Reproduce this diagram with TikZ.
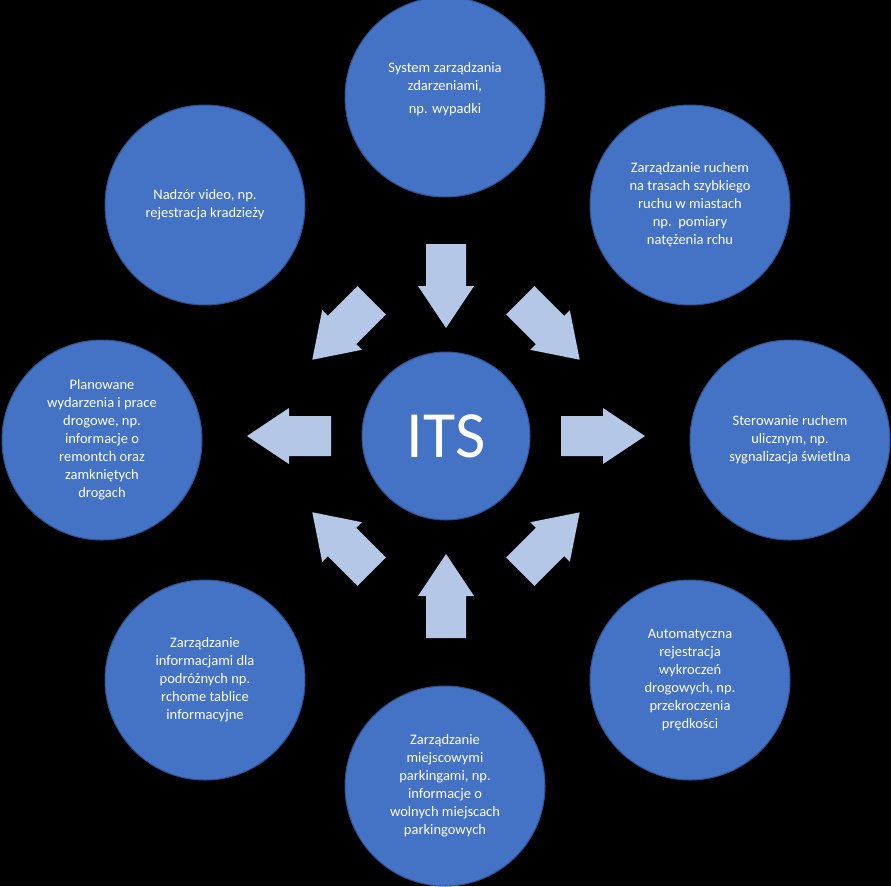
\documentclass[tikz,border=0pt]{standalone}
\usepackage{fontspec}
\setmainfont{Carlito}
\definecolor{cfill}{HTML}{4472C4}
\definecolor{cedge}{HTML}{2F528F}
\definecolor{afill}{HTML}{B4C7E7}
\tikzset{
 outer/.style={circle,fill=cfill,draw=cedge,line width=1pt,minimum size=200pt,inner sep=0pt,text=white,align=center,font=\fontsize{14.5}{18}\selectfont},
 blockarrow/.style={fill=afill,draw=none}
}
\begin{document}
\begin{tikzpicture}[x=1pt,y=-1pt]
\fill[black] (0,0) rectangle (891,886);
\useasboundingbox (0,0) rectangle (891,886);
\node[outer,minimum size=168pt,font=\fontsize{66}{66}\selectfont] (its) at (446,436) {ITS};
\node[outer] (n) at (445,97) {System zarządzania\\zdarzeniami,\\[5pt]np. wypadki\\[0pt]};
\node[outer] (ne) at (690,205) {Zarządzanie ruchem\\na trasach szybkiego\\ruchu w miastach\\np.\ \ pomiary\\natężenia rchu};
\node[outer] (e) at (790,440) {Sterowanie ruchem\\ulicznym, np.\\sygnalizacja świetlna};
\node[outer] (se) at (690,680) {Automatyczna\\rejestracja\\wykroczeń\\drogowych, np.\\przekroczenia\\prędkości};
\node[outer] (s) at (445,786) {Zarządzanie\\miejscowymi\\parkingami, np.\\informacje o\\wolnych miejscach\\parkingowych};
\node[outer] (sw) at (205,680) {Zarządzanie\\informacjami dla\\podróżnych np.\\rchome tablice\\informacyjne};
\node[outer] (w) at (102,440) {Planowane\\wydarzenia i prace\\drogowe, np.\\informacje o\\remontch oraz\\zamkniętych\\drogach};
\node[outer] (nw) at (205,205) {Nadzór video, np.\\rejestracja kradzieży};
\foreach \ang/\x/\y in {90/446/286, 45/550/330, 0/603/436, -45/550/542, -90/446/596, -135/342/542, 180/289/436, 135/342/330}
  \fill[blockarrow,shift={(\x,\y)},rotate=-\ang]
    (-42,-20) -- (0,-20) -- (0,-28) -- (42,0) -- (0,28) -- (0,20) -- (-42,20) -- cycle;
\end{tikzpicture}
\end{document}
